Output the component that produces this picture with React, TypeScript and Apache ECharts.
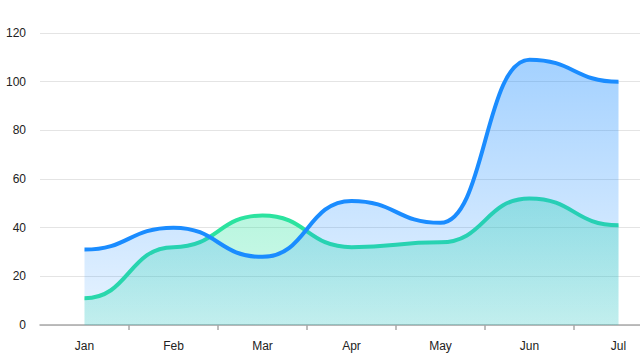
import React, { useEffect, useRef } from "react";
import * as echarts from "echarts";

const categories = ["Jan", "Feb", "Mar", "Apr", "May", "Jun", "Jul"];
const blueValues = [31, 40, 28, 51, 42, 109, 100];
const greenValues = [11, 32, 45, 32, 34, 52, 41];

function makeSeries(name: string, values: number[], lineColor: string, top: string, bottom: string) {
  return {
    name,
    type: "custom",
    coordinateSystem: "cartesian2d",
    data: values.map((v, i) => [i, v]),
    encode: { x: 0, y: 1 },
    renderItem: (params: any, api: any) => {
      if (params.dataIndex !== 0) return null;
      const pts = values.map((v, i) => api.coord([i, v]));
      const base = api.coord([0, 0])[1];
      let d = `M${pts[0][0]},${pts[0][1]}`;
      for (let i = 1; i < pts.length; i++) {
        const [x0, y0] = pts[i - 1];
        const [x1, y1] = pts[i];
        const mx = (x0 + x1) / 2;
        d += ` C${mx},${y0} ${mx},${y1} ${x1},${y1}`;
      }
      const last = pts[pts.length - 1];
      const area = `${d} L${last[0]},${base} L${pts[0][0]},${base} Z`;
      return {
        type: "group",
        children: [
          {
            type: "path",
            shape: { pathData: area },
            style: {
              fill: new echarts.graphic.LinearGradient(0, 0, 0, 1, [
                { offset: 0, color: top },
                { offset: 1, color: bottom },
              ]),
              stroke: "none",
            },
          },
          {
            type: "path",
            shape: { pathData: d },
            style: { fill: "none", stroke: lineColor, lineWidth: 4, lineJoin: "round" },
          },
        ],
      };
    },
  };
}

export default function App() {
  const ref = useRef<HTMLDivElement>(null);
  useEffect(() => {
    if (!ref.current) return;
    const chart = echarts.init(ref.current, null, { renderer: "svg" });
    chart.setOption({
      animation: false,
      grid: { left: 40, top: 33, right: 0, bottom: 38, containLabel: false },
      xAxis: {
        type: "category",
        data: categories,
        boundaryGap: true,
        axisLine: { lineStyle: { color: "#a8a8a8", width: 1.5 } },
        axisTick: {
          show: true,
          length: 5,
          interval: (i: number) => i > 0,
          lineStyle: { color: "#a8a8a8", width: 1.5 },
        },
        axisLabel: {
          margin: 15,
          color: "#222",
          fontSize: 12,
          interval: 0,
          fontFamily: "Liberation Sans, Arial, sans-serif",
        },
      },
      yAxis: {
        type: "value",
        min: 0,
        max: 120,
        interval: 20,
        axisLine: { show: false },
        axisTick: { show: false },
        splitLine: { lineStyle: { color: "#e4e4e4", width: 1 } },
        axisLabel: {
          margin: 14,
          color: "#222",
          fontSize: 12,
          fontFamily: "Liberation Sans, Arial, sans-serif",
        },
      },
      series: [
        makeSeries("green", greenValues, "#2be39f", "rgba(43,227,159,0.35)", "rgba(43,227,159,0.2)"),
        makeSeries("blue", blueValues, "#1a8cff", "rgba(26,140,255,0.4)", "rgba(26,140,255,0.1)"),
      ],
    });
    return () => chart.dispose();
  }, []);
  return (
    <div style={{ position: "fixed", left: 0, top: 0, width: 640, height: 363, overflow: "hidden", background: "#fff" }}>
      <div ref={ref} style={{ width: 663, height: 363 }} />
    </div>
  );
}
